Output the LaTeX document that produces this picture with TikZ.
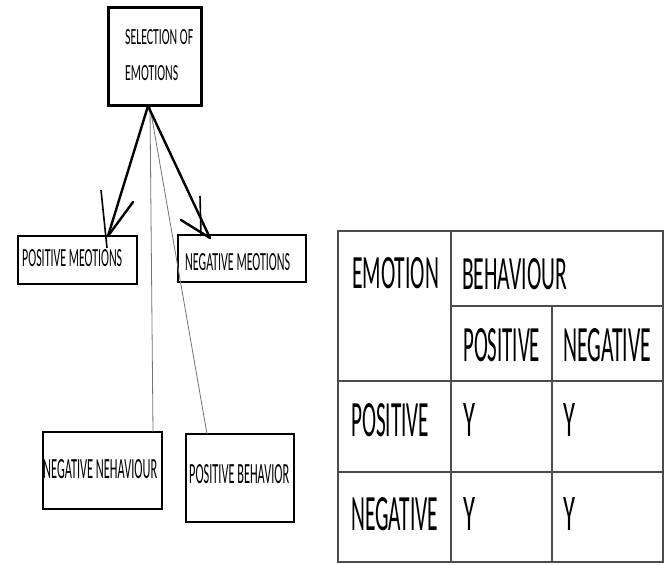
\documentclass[tikz,border=0pt]{standalone}
\usepackage{fontspec}
\setmainfont{Carlito}
\usepackage{graphicx}
\newcommand{\fitt}[3]{\resizebox{#1pt}{#2pt}{#3}}
\begin{document}
\begin{tikzpicture}[x=1pt,y=-1pt,
  boxnode/.style={draw, inner sep=0, line width=#1},
  txt/.style={inner sep=0, anchor=south west},
  arr/.style={line width=2.4pt, line cap=round},
  thinline/.style={line width=0.8pt, black!55},
  tab/.style={line width=1.6pt, black!70}]
\useasboundingbox (0,0) rectangle (667,565);
% boxes
\node[boxnode=3pt, minimum width=93pt, minimum height=98pt] (sel) at (154.5,56) {};
\node[boxnode=2.6pt, minimum width=119pt, minimum height=48pt] (pos) at (77.5,260) {};
\node[boxnode=2.6pt, minimum width=128pt, minimum height=47pt] (neg) at (242,258.5) {};
\node[boxnode=1.4pt, minimum width=119pt, minimum height=77pt] (nb) at (102.5,470.5) {};
\node[boxnode=1.4pt, minimum width=108pt, minimum height=88pt] (pb) at (240,478) {};
% texts in boxes
\node[txt] (selt1) at (125,45) {\fitt{68}{15}{SELECTION OF}};
\node[txt] (selt2) at (125,81) {\fitt{53}{15}{EMOTIONS}};
\node[txt] (post) at (22,267) {\fitt{100}{17}{POSITIVE MEOTIONS}};
\node[txt] (negt) at (185,271) {\fitt{105}{17}{NEGATIVE MEOTIONS}};
\node[txt] (nbt) at (43,479) {\fitt{114}{19}{NEGATIVE NEHAVIOUR}};
\node[txt] (pbt) at (189,484) {\fitt{100}{19}{POSITIVE BEHAVIOR}};
% connector points
\coordinate (apex) at (148,106);
\coordinate (apex2) at (150,107);
\coordinate (tipL) at (108,236);
\coordinate (tipR) at (210,238);
\coordinate (nbtop) at (153,432);
\coordinate (pbtop) at (207,434);
% thin lines
\draw[thinline] (apex2) -- (nbtop);
\draw[thinline] (apex2) -- (pbtop);
% arrows
\draw[arr] (apex) -- (tipL);
\draw[arr] (tipL) -- (133,202);
\draw[line width=1.6pt] (101,190) -- (107,248);
\draw[arr] (apex) -- (tipR);
\draw[arr] (tipR) -- (181,220);
\draw[line width=1.6pt] (200,196) -- (201,236);
% table
\draw[tab] (338,231) rectangle (663,562);
\draw[tab] (451,231) -- (451,562);
\draw[tab] (552,306) -- (552,562);
\draw[tab] (451,306) -- (663,306);
\draw[tab] (338,381) -- (663,381);
\draw[tab] (338,472) -- (663,472);
\node[txt] (h1) at (352,289) {\fitt{87}{31}{EMOTION}};
\node[txt] (h2) at (462,290) {\fitt{105}{31}{BEHAVIOUR}};
\node[txt] (h3) at (463,362) {\fitt{77}{33}{POSITIVE}};
\node[txt] (h4) at (563,362) {\fitt{88}{33}{NEGATIVE}};
\node[txt] (r1) at (351,437) {\fitt{78}{33}{POSITIVE}};
\node[txt] (r1a) at (463,437) {\fitt{12}{33}{Y}};
\node[txt] (r1b) at (563,437) {\fitt{12}{33}{Y}};
\node[txt] (r2) at (351,531) {\fitt{87}{33}{NEGATIVE}};
\node[txt] (r2a) at (463,531) {\fitt{12}{33}{Y}};
\node[txt] (r2b) at (563,531) {\fitt{12}{33}{Y}};
\end{tikzpicture}
\end{document}
